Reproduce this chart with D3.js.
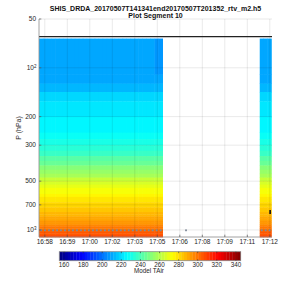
<!DOCTYPE html>
<html><head><meta charset="utf-8">
<script src="https://cdn.jsdelivr.net/npm/d3@7"></script>
<style>body{margin:0;background:#fff}svg{display:block;font-family:"Liberation Sans",Arial,sans-serif}</style>
</head><body><svg id="c" width="300" height="300"></svg>
<script>
const titleLines = ["SHIS_DRDA_20170507T141341end20170507T201352_rtv_m2.h5", "Plot Segment 10"];
const yLabel = "P (hPa)";
const cbLabel = "Model TAir";
// time in minutes after 16:00
const xTickValues = [58.05, 59.50, 60.95, 62.40, 63.85, 65.30, 66.75, 68.20, 69.65, 71.10, 72.55];
const xTickLabels = ["16:58","16:59","17:00","17:02","17:03","17:05","17:06","17:08","17:09","17:11","17:12"];
const yTickValues = [50, 100, 200, 300, 500, 700, 1000];
const yTickLabels = ["50", ["10","2"], "200", "300", "500", "700", ["10","3"]];
const cbTicks = [160,180,200,220,240,260,280,300,320,340];
const cbDomain = [155, 345];
const xDomain = [57.676, 72.69];
const yDomain = [50, 1105];
// profile columns (start times, minutes after 16:00)
const colTimes = [57.68,57.93,58.19,58.45,58.71,58.96,59.22,59.48,59.73,59.99,
  60.25,60.50,60.76,61.02,61.27,61.53,61.79,62.05,62.30,62.56,
  62.82,63.07,63.33,63.59,63.84,64.10,64.36,64.62,64.87,65.13,65.39,
  71.90,72.15,72.40];
// pressure level edges (hPa) and temperatures (K) per level
const levelEdges = [66,110,125,141,161,201,251,275,300,325,350,375,400,425,450,475,500,525,550,575,600,
  625,650,675,700,725,750,775,800,825,850,875,900,925,950,975,1000,1025,1050,1075,1105];
const levelTemps = [210.5,210.5,214,218,221.5,224.5,228,231,234,238,242,246,250,254,258,262,265.5,268.5,271,273.5,
  275.5,277.5,279,280.5,282,283.5,285,286.5,288,289.5,291,292.5,294,296,298,300,302,304,305.5,307];
const anomalies = [{col:29, level:0, t:207.5},{col:30, level:0, t:207.5}];
// surface pressure markers
const sfcTimes = [57.81,58.06,58.32,58.58,58.84,59.09,59.35,59.61,59.86,60.12,60.38,60.63,60.89,61.15,61.40,
  61.66,61.92,62.18,62.43,62.69,62.95,63.20,63.46,63.72,63.97,64.23,64.49,64.75,65.00,65.26,65.52,
  67.15,72.03,72.28,72.53];
const sfcP = [1005,1005,1005,1005,1005,1005,1005,1005,1005,1005,1005,1005,1005,1005,1005,
  1005,1005,1005,1005,1005,1005,1005,1005,1005,1005,1005,1005,1005,1005,1005,1005,
  1005,1005,1005,1005];
const topLineP = 64.3;
const flagMarks = [{t:72.57, p:775}];

const svg = d3.select("#c");
const L=39, R=272, T=19, B=237;
const x = d3.scaleLinear().domain(xDomain).range([L,R]);
const y = d3.scaleLog().domain(yDomain).range([T,B]);
function jet(v){
  const c = u => Math.max(0, Math.min(1, u));
  return d3.rgb(255*c(1.5-Math.abs(4*v-3)), 255*c(1.5-Math.abs(4*v-2)), 255*c(1.5-Math.abs(4*v-1)));
}
const N=64;
function colorT(t){
  let v=(t-cbDomain[0])/(cbDomain[1]-cbDomain[0]);
  let k=Math.max(0,Math.min(N-1,Math.floor(v*N)));
  return jet((k+0.5)/N);
}
const step = colTimes[1]-colTimes[0];
const cells=[];
colTimes.forEach((t,i)=>levelTemps.forEach((temp,j)=>{
  const a = anomalies.find(d=>d.col===i&&d.level===j);
  cells.push({t, j, temp: a? a.t: temp});
}));
svg.append("g").selectAll("rect").data(cells).join("rect")
  .attr("x",d=>x(d.t)).attr("width",d=>x(d.t+step)-x(d.t)+0.4)
  .attr("y",d=>y(levelEdges[d.j])).attr("height",d=>y(levelEdges[d.j+1])-y(levelEdges[d.j])+0.4)
  .attr("fill",d=>colorT(d.temp));
// grid
const g = svg.append("g").attr("stroke","rgba(0,0,0,0.11)").attr("stroke-width",0.8);
xTickValues.forEach(v=>g.append("line").attr("x1",x(v)).attr("x2",x(v)).attr("y1",T).attr("y2",B));
yTickValues.forEach(v=>g.append("line").attr("x1",L).attr("x2",R).attr("y1",y(v)).attr("y2",y(v)));
// top line
svg.append("line").attr("x1",L).attr("x2",R).attr("y1",y(topLineP)).attr("y2",y(topLineP)).attr("stroke","#222").attr("stroke-width",1.3);
// surface dots
svg.append("g").selectAll("rect").data(sfcTimes).join("rect")
  .attr("x",(d)=>x(d)-0.9).attr("y",(d,i)=>y(sfcP[i])-0.9).attr("width",1.8).attr("height",1.8).attr("fill","#7f8a99");
svg.append("g").selectAll("rect").data(flagMarks).join("rect")
  .attr("x",d=>x(d.t)-0.8).attr("y",d=>y(d.p)-2).attr("width",1.6).attr("height",4).attr("fill","#111");
// axes
const ax = svg.append("g");
ax.append("line").attr("x1",L).attr("x2",L).attr("y1",T).attr("y2",B).attr("stroke","#8a8a8a").attr("stroke-width",0.8);
ax.append("line").attr("x1",L).attr("x2",R).attr("y1",B).attr("y2",B).attr("stroke","#8a8a8a").attr("stroke-width",0.8);
xTickValues.forEach((v,i)=>{
  ax.append("line").attr("x1",x(v)).attr("x2",x(v)).attr("y1",B).attr("y2",B-2.3).attr("stroke","#555").attr("stroke-width",0.7);
  ax.append("text").attr("x",x(v)).attr("y",B+6.6).attr("text-anchor","middle").attr("font-size","6.5px").attr("fill","#262626").text(xTickLabels[i]);
});
yTickValues.forEach((v,i)=>{
  ax.append("line").attr("x1",L).attr("x2",L+2.3).attr("y1",y(v)).attr("y2",y(v)).attr("stroke","#555").attr("stroke-width",0.7);
  const lab = yTickLabels[i];
  const tx = ax.append("text").attr("x",L-3).attr("y",y(v)+2.3).attr("text-anchor","end").attr("font-size","6.5px").attr("fill","#262626");
  if(Array.isArray(lab)){
    tx.attr("x",L-2.5);
    tx.append("tspan").text(lab[0]);
    tx.append("tspan").attr("font-size","4.5px").attr("dy","-2.6").text(lab[1]);
  } else tx.text(lab);
});
svg.append("text").attr("transform",`translate(21,${(T+B)/2}) rotate(-90)`).attr("text-anchor","middle")
  .attr("font-size","7px").attr("fill","#262626").text(yLabel);
// title
titleLines.forEach((s,i)=>svg.append("text").attr("x",(L+R)/2).attr("y",10.8+i*6.8).attr("text-anchor","middle")
  .attr("font-size","7px").attr("font-weight","bold").attr("fill","#111").text(s));
// colorbar
const cbX = d3.scaleLinear().domain(cbDomain).range([59.3,240.7]);
const cbT=251.7, cbB=260.7;
const cb = svg.append("g");
d3.range(N).forEach(k=>{
  const t0 = cbDomain[0]+(cbDomain[1]-cbDomain[0])*k/N, t1 = cbDomain[0]+(cbDomain[1]-cbDomain[0])*(k+1)/N;
  cb.append("rect").attr("x",cbX(t0)).attr("width",cbX(t1)-cbX(t0)+0.3).attr("y",cbT).attr("height",cbB-cbT).attr("fill",jet((k+0.5)/N));
});
cb.append("rect").attr("x",cbX(cbDomain[0])).attr("y",cbT).attr("width",cbX(cbDomain[1])-cbX(cbDomain[0])).attr("height",cbB-cbT)
  .attr("fill","none").attr("stroke","#8a8a8a").attr("stroke-width",0.8);
cbTicks.forEach(v=>{
  cb.append("line").attr("x1",cbX(v)).attr("x2",cbX(v)).attr("y1",cbB).attr("y2",cbB-1.5).attr("stroke","#333").attr("stroke-width",0.6);
  cb.append("line").attr("x1",cbX(v)).attr("x2",cbX(v)).attr("y1",cbT).attr("y2",cbT+1.5).attr("stroke","#333").attr("stroke-width",0.6);
  cb.append("text").attr("x",cbX(v)).attr("y",cbB+6.2).attr("text-anchor","middle").attr("font-size","6.3px").attr("fill","#262626").text(v);
});
svg.append("text").attr("x",149).attr("y",273.3).attr("text-anchor","middle").attr("font-size","6.3px").attr("fill","#262626").text(cbLabel);
</script></body></html>
